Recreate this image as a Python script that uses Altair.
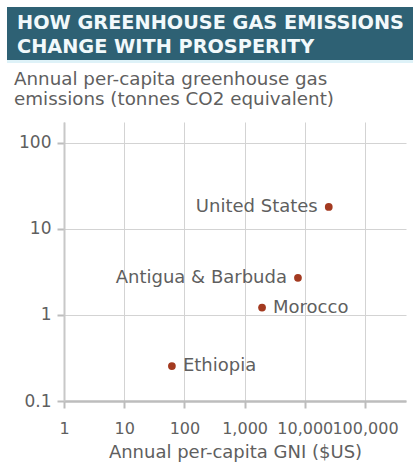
import altair as alt
import pandas as pd

countries = ["United States", "Antigua & Barbuda", "Morocco", "Ethiopia"]
gni = [25000, 7700, 1950, 62]
emissions = [18.0, 2.7, 1.22, 0.255]
labels_left_of_point = ["United States", "Antigua & Barbuda"]

x_ticks = [1, 10, 100, 1000, 10000, 100000]
y_ticks = [0.1, 1, 10, 100]

title_text = "HOW GREENHOUSE GAS EMISSIONS\nCHANGE WITH PROSPERITY"
subtitle_text = "Annual per-capita greenhouse gas\nemissions (tonnes CO2 equivalent)"
x_title = "Annual per-capita GNI ($US)"

df = pd.DataFrame({"country": countries, "gni": gni, "emissions": emissions})

FONT = "DejaVu Sans"
TEXT_COL = "#5f5f5f"
POINT_COL = "#a33a20"

W, H = 342, 279

x_enc = alt.X(
    "gni:Q",
    scale=alt.Scale(type="log", domain=[1, 480000], nice=False),
    axis=alt.Axis(
        values=x_ticks,
        format=",",
        title=x_title,
        grid=True,
        gridColor="#d3d3d3",
        domainColor="#bdbdbd",
        domainWidth=2.5,
        tickColor="#bdbdbd",
        tickWidth=2,
        tickSize=7,
        labelFont=FONT,
        labelFontSize=16,
        labelColor=TEXT_COL,
        labelBaseline="alphabetic",
        labelPadding=25,
        labelFlush=False,
        labelOverlap=False,
        titleFont=FONT,
        titleFontSize=18,
        titleFontWeight="normal",
        titleColor=TEXT_COL,
        titleBaseline="alphabetic",
        titlePadding=21,
    ),
)
y_enc = alt.Y(
    "emissions:Q",
    scale=alt.Scale(type="log", domain=[0.1, 175], nice=False),
    axis=alt.Axis(
        values=y_ticks,
        format="~g",
        title=None,
        grid=True,
        gridColor="#d3d3d3",
        domainColor="#c8c8c8",
        domainWidth=2,
        tickColor="#bdbdbd",
        tickWidth=2,
        tickSize=7,
        labelFont=FONT,
        labelFontSize=17,
        labelColor=TEXT_COL,
        labelPadding=6,
        labelFlush=False,
        labelOverlap=False,
    ),
)

base = alt.Chart(df)

points = base.mark_circle(size=60, color=POINT_COL, opacity=1).encode(
    x=x_enc, y=y_enc
)

lab_left = base.transform_filter(
    alt.FieldOneOfPredicate(field="country", oneOf=labels_left_of_point)
).mark_text(
    align="right", baseline="middle", dx=-11, font=FONT, fontSize=18, color=TEXT_COL
).encode(x="gni:Q", y="emissions:Q", text="country:N")

lab_right = base.transform_filter(
    ~alt.FieldOneOfPredicate(field="country", oneOf=labels_left_of_point)
).mark_text(
    align="left", baseline="middle", dx=11, font=FONT, fontSize=18, color=TEXT_COL
).encode(x="gni:Q", y="emissions:Q", text="country:N")

one = alt.Data(values=[{"k": 1}])

banner = alt.Chart(one).mark_rect(color="#2e6174").encode(
    x=alt.value(-57), x2=alt.value(349), y=alt.value(-115), y2=alt.value(-62)
)
strip = alt.Chart(one).mark_rect(color="#def2f8").encode(
    x=alt.value(-57), x2=alt.value(349), y=alt.value(-62), y2=alt.value(-59)
)
title = alt.Chart(one).mark_text(
    align="left", baseline="alphabetic", font=FONT, fontWeight="bold",
    fontSize=19.3, color="#f2f9fb", lineBreak="\n", lineHeight=24,
).encode(x=alt.value(-47), y=alt.value(-93), text=alt.value(title_text))
subtitle = alt.Chart(one).mark_text(
    align="left", baseline="alphabetic", font=FONT,
    fontSize=18.3, color=TEXT_COL, lineBreak="\n", lineHeight=20,
).encode(x=alt.value(-50), y=alt.value(-37), text=alt.value(subtitle_text))

chart = alt.layer(banner, strip, title, subtitle, points, lab_left, lab_right).properties(
    width=W,
    height=H,
    autosize="none",
    padding={"left": 64, "top": 122, "right": 8, "bottom": 62},
    background="white",
).configure_view(stroke=None)

chart.save("out.html", embed_options={"renderer": "svg", "actions": False})
